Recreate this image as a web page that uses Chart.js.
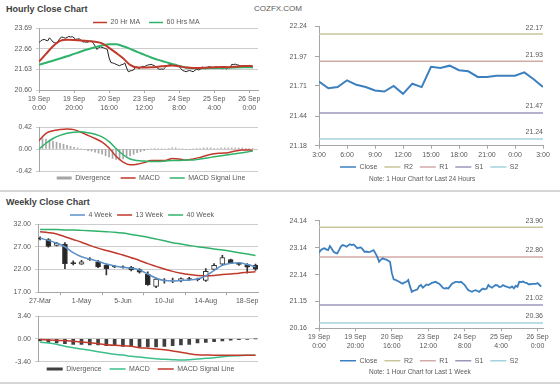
<!DOCTYPE html>
<html>
<head>
<meta charset="utf-8">
<script src="https://cdn.jsdelivr.net/npm/chart.js@4.4.1/dist/chart.umd.min.js"></script>
<style>
body { margin: 0; background: #fff; }
#page { position: relative; width: 560px; height: 385px; overflow: hidden; font-family: 'Liberation Sans', Arial, sans-serif; }
#page canvas { position: absolute; }
.head { position: absolute; left: 6px; font-weight: bold; font-size: 9px; line-height: 12px; color: #404040; }
.rule { position: absolute; left: 0; width: 560px; height: 2px; background: #d6d6d6; }
</style>
</head>
<body>
<div id="page">
  <div class="head" style="top:3px">Hourly Close Chart</div>
  <div style="position:absolute;left:254px;top:4px;font-size:8px;line-height:10px;color:#5a5a5a">COZFX.COM</div>
  <canvas id="hourly" width="268" height="104" style="left:0;top:14px"></canvas>
  <canvas id="hourlyMacd" width="268" height="70" style="left:0;top:118px"></canvas>
  <canvas id="day" width="290" height="174" style="left:270px;top:14px"></canvas>
  <div class="rule" style="top:190px"></div>
  <div class="head" style="top:196px">Weekly Close Chart</div>
  <canvas id="weekly" width="268" height="102" style="left:0;top:206px"></canvas>
  <canvas id="weeklyMacd" width="268" height="72" style="left:0;top:308px"></canvas>
  <canvas id="week" width="290" height="174" style="left:270px;top:206px"></canvas>
  <div class="rule" style="top:382px"></div>
</div>
<script>
// hourly data, x = hours from 19 Sep 0:00 (weekend skipped)
const hourTickPos = [0, 20, 40, 60, 80, 100, 120];
const hourTickDays = ['19 Sep', '19 Sep', '20 Sep', '23 Sep', '24 Sep', '25 Sep', '26 Sep'];
const hourTickTimes = ['0:00', '20:00', '16:00', '12:00', '8:00', '4:00', '0:00'];
const hourClose = [22.96,23.05,23.10,23.12,23.08,23.05,23.20,23.10,22.99,22.95,
  22.93,23.05,23.18,23.24,23.22,23.18,23.22,23.27,23.24,23.26,
  23.20,23.12,23.14,23.15,23.08,22.99,23.00,22.98,22.99,23.02,
  23.05,22.93,22.80,22.62,22.70,22.75,22.72,22.70,22.66,22.62,
  22.20,21.97,21.95,21.92,21.88,21.84,21.81,21.86,21.88,21.95,
  21.70,21.51,21.55,21.57,21.60,21.72,21.76,21.66,21.72,21.78,
  21.76,21.80,21.84,21.86,21.88,21.84,21.81,21.74,21.66,21.63,
  21.65,21.63,21.72,21.81,21.84,21.88,21.88,21.86,21.88,21.82,
  21.76,21.66,21.57,21.54,21.51,21.55,21.57,21.54,21.51,21.58,
  21.63,21.60,21.62,21.76,21.70,21.66,21.72,21.76,21.75,21.69,
  21.70,21.76,21.72,21.70,21.67,21.66,21.71,21.64,21.73,21.70,
  21.88,21.87,21.89,21.85,21.84,21.79,21.79,21.80,21.80,21.80,
  21.83,21.77,21.70];
const maHours = [0,4,8,12,16,20,24,28,32,36,40,44,48,52,56,60,64,68,72,76,80,84,88,92,96,100,104,108,112,116,120,122];
const ma20 = [22.01,22.40,22.78,23.05,23.10,23.09,23.07,23.04,23.00,22.92,22.70,22.45,22.18,21.85,21.72,21.72,
  21.73,21.76,21.80,21.82,21.78,21.72,21.70,21.70,21.72,21.74,21.75,21.74,21.76,21.79,21.80,21.79];
const ma60 = [21.86,21.96,22.06,22.17,22.28,22.40,22.52,22.63,22.73,22.82,22.88,22.88,22.78,22.65,22.50,22.36,
  22.22,22.10,22.00,21.90,21.80,21.72,21.68,21.68,21.69,21.70,21.70,21.71,21.72,21.73,21.74,21.74];
const macdHourly = [0.16,0.30,0.35,0.37,0.38,0.37,0.32,0.26,0.20,0.13,0.02,-0.14,-0.25,-0.30,-0.29,-0.26,
  -0.22,-0.22,-0.22,-0.18,-0.19,-0.21,-0.19,-0.16,-0.12,-0.09,-0.08,-0.07,-0.04,-0.02,-0.02,-0.03];
const signalHourly = [0.00,0.11,0.20,0.26,0.30,0.32,0.33,0.31,0.28,0.23,0.14,0.01,-0.11,-0.19,-0.22,-0.23,
  -0.24,-0.24,-0.23,-0.22,-0.22,-0.21,-0.21,-0.19,-0.17,-0.15,-0.13,-0.11,-0.09,-0.07,-0.05,-0.04];
// one bar every 2 hours
const divHourly = [0.16,0.20,0.19,0.17,0.15,0.13,0.11,0.09,0.07,0.05,
  0.03,0.02,0.00,-0.01,-0.03,-0.04,-0.06,-0.08,-0.10,-0.13,
  -0.15,-0.18,-0.20,-0.21,-0.19,-0.16,-0.13,-0.10,-0.07,-0.05,
  -0.03,-0.01,0.00,0.01,0.01,0.00,0.00,0.01,0.02,0.02,
  0.01,0.00,-0.01,-0.01,0.00,0.01,0.01,0.02,0.02,0.02,
  0.01,0.01,0.02,0.02,0.02,0.02,0.02,0.02,0.02,0.01,
  0.01,0.01];
const hourAxis = [20.60, 21.63, 22.66, 23.69];
const macdHourAxis = [-0.42, 0, 0.42];

// last 24 hours
const dayTickPos = [0, 3, 6, 9, 12, 15, 18, 21, 24];
const dayTickLabels = ['3:00', '6:00', '9:00', '12:00', '15:00', '18:00', '21:00', '0:00', '3:00'];
const dayClose = [21.75,21.69,21.70,21.76,21.72,21.70,21.67,21.66,21.71,21.64,21.73,21.70,21.88,
  21.87,21.89,21.85,21.84,21.79,21.79,21.80,21.80,21.80,21.83,21.77,21.70];
const dayAxis = [21.18, 21.44, 21.71, 21.97, 22.24];
const dayLevels = [22.17, 21.93, 21.47, 21.24];
const levelNames = ['R2', 'R1', 'S1', 'S2'];

// weekly data, 27-Mar .. 25-Sep
const weekTickPos = [0, 5, 10, 15, 20, 25];
const weekTickLabels = ['27-Mar', '1-May', '5-Jun', '10-Jul', '14-Aug', '18-Sep'];
const weekOpen  = [28.9,28.6,27.3,27.6,23.5,23.2,24.3,23.7,23.0,22.7,22.6,22.5,22.0,21.0,18.3,19.7,19.6,19.5,20.0,19.9,19.6,22.0,23.2,24.2,23.4,23.1,23.0];
const weekClose = [28.7,27.1,27.8,23.3,23.3,23.7,24.2,22.6,22.2,22.6,22.5,21.9,21.4,18.7,19.9,19.6,19.7,20.0,19.9,19.8,21.6,22.9,24.6,23.4,23.1,22.5,22.1];
const weekHigh  = [29.2,28.8,28.0,27.9,23.9,24.0,24.6,24.0,23.2,22.9,22.8,22.7,22.2,21.5,20.2,20.0,20.1,20.2,20.3,20.1,22.2,23.3,25.1,24.3,23.5,23.3,23.2];
const weekLow   = [28.5,26.9,27.2,22.2,23.0,23.1,24.0,22.4,20.8,22.4,22.3,21.7,21.2,18.5,18.0,19.0,19.1,19.3,19.6,19.5,19.4,21.8,23.0,23.3,22.9,21.2,21.8];
const ma4w  = [28.9,28.4,27.8,27.0,25.7,24.8,24.3,23.8,23.2,22.8,22.5,22.3,21.9,21.0,20.1,19.6,19.5,19.6,19.7,19.9,20.6,21.8,22.9,23.4,23.5,23.1,22.6];
const ma13w = [30.3,30.1,29.8,29.2,28.6,28.0,27.3,26.7,26.2,25.7,25.2,24.6,24.0,23.3,22.7,22.1,21.6,21.2,20.9,20.7,20.6,20.7,20.9,21.0,21.2,21.4,21.5];
const ma40w = [30.8,30.8,30.8,30.7,30.7,30.6,30.5,30.4,30.3,30.2,30.0,29.7,29.4,29.1,28.7,28.3,27.9,27.6,27.3,27.0,26.8,26.5,26.3,26.0,25.7,25.4,25.1];
const divWeekly    = [-0.3,-0.5,-0.6,-0.7,-0.8,-0.8,-0.9,-0.9,-1.0,-1.0,-1.1,-1.1,-1.2,-1.2,-1.2,-1.1,-1.0,-0.9,-0.8,-0.6,-0.5,-0.4,-0.3,-0.2,-0.1,-0.05,0.0];
const macdWeekly   = [-0.5,-0.6,-0.8,-1.1,-1.3,-1.5,-1.7,-1.9,-2.1,-2.3,-2.4,-2.6,-2.7,-2.85,-2.95,-3.05,-3.1,-3.15,-3.1,-3.0,-2.9,-2.8,-2.65,-2.55,-2.5,-2.45,-2.45];
const signalWeekly = [-0.1,-0.15,-0.2,-0.25,-0.35,-0.45,-0.55,-0.7,-0.85,-0.95,-1.0,-1.1,-1.3,-1.4,-1.5,-1.6,-1.8,-2.0,-2.2,-2.35,-2.4,-2.43,-2.43,-2.45,-2.45,-2.45,-2.45];
const weekAxis = [17, 22, 27, 32];
const macdWeekAxis = [-3.40, 0, 3.40];

// last week, hourly
const weekHourAxis = [20.16, 21.15, 22.14, 23.14, 24.14];
const weekLevels = [23.90, 22.80, 21.02, 20.36];

const gridGray = '#cdcdcd';
const axisGray = '#a6a6a6';
const red = '#c0392b';
const green = '#2fb36a';
const closeBlue = '#3c7fbf';
const levelColors = ['#c8c59a', '#d2aaa8', '#9a97ba', '#a3d2e0'];

Chart.defaults.font.family = "'Liberation Sans', Arial, sans-serif";
Chart.defaults.font.size = 7;
Chart.defaults.color = '#595959';
Chart.defaults.animation = false;
Chart.defaults.responsive = false;
Chart.defaults.plugins.tooltip.enabled = false;
Chart.defaults.elements.point.radius = 0;

function pts(xs, ys) {
  return ys.map((v, i) => ({ x: xs[i], y: v }));
}

function series(ys) {
  return ys.map((v, i) => ({ x: i, y: v }));
}

function xLinear(min, max, pos, label, height) {
  return {
    type: 'linear', min: min, max: max, offset: false,
    afterBuildTicks: s => { s.ticks = pos.map(v => ({ value: v })); },
    ticks: { autoSkip: false, maxRotation: 0, padding: 2, callback: label },
    grid: { drawOnChartArea: false, tickLength: 3, color: axisGray },
    border: { color: axisGray },
    afterFit: s => { s.height = height; }
  };
}

function yFixed(vals, width, lines, pad, tick) {
  return {
    min: vals[0], max: vals[vals.length - 1],
    afterBuildTicks: s => { s.ticks = vals.map(v => ({ value: v })); },
    ticks: { padding: pad, callback: v => v.toFixed(2) },
    grid: { drawOnChartArea: lines, tickLength: tick, color: lines ? gridGray : axisGray },
    border: { color: axisGray },
    afterFit: s => { s.width = width; }
  };
}

function legendOpts(position, padding, sample) {
  return {
    position: position, fullSize: false, align: 'start',
    labels: {
      usePointStyle: true, pointStyle: 'line', pointStyleWidth: sample, padding: padding,
      generateLabels: chart => chart.data.datasets.map((ds, i) => ({
        text: ds.label || '', datasetIndex: i, pointStyle: 'line', hidden: false,
        strokeStyle: ds.borderColor, fillStyle: ds.borderColor,
        lineWidth: ds.keyWidth || 1.5, fontColor: '#595959'
      })),
      filter: item => item.text !== ''
    }
  };
}

function noteTitle(text) {
  return { display: true, text: text, position: 'bottom', align: 'start', color: '#595959',
    font: { size: 6.5, weight: 'normal' }, padding: { top: 2, bottom: 0 } };
}

function levelSets(levels, x0, x1) {
  return levels.map((v, k) => ({
    label: levelNames[k], level: v, borderColor: levelColors[k], borderWidth: 1.5,
    data: [{ x: x0, y: v }, { x: x1, y: v }]
  }));
}

// fixes legend height and moves legend / note to where the original has them
const nudge = {
  id: 'nudge',
  beforeLayout(chart, args, o) {
    const lg = chart.legend;
    if (lg && o.legendHeight && !lg._fixedFit) {
      const h = o.legendHeight;
      const fit = lg.fit;
      lg.fit = function () { fit.call(this); this.height = h; };
      lg._fixedFit = true;
    }
  },
  afterLayout(chart, args, o) {
    const lg = chart.legend;
    if (lg) {
      lg.left += o.lx || 0;
      lg.top += o.ly || 0;
      lg.right = lg.left + 300;
      lg.bottom = lg.top + 30;
    }
    const tb = chart.titleBlock;
    if (tb && tb.options.display) {
      tb.left += o.tx || 0; tb.right += o.tx || 0;
      tb.top += o.ty || 0; tb.bottom += o.ty || 0;
    }
  }
};

// value written above the right end of each support / resistance line
const levelText = {
  id: 'levelText',
  afterDatasetsDraw(chart) {
    const ctx = chart.ctx, area = chart.chartArea, y = chart.scales.y;
    ctx.save();
    ctx.font = "7px 'Liberation Sans', Arial, sans-serif";
    ctx.fillStyle = '#595959';
    ctx.textAlign = 'right';
    ctx.textBaseline = 'middle';
    chart.data.datasets.forEach(ds => {
      if (ds.level != null) ctx.fillText(ds.level.toFixed(2), area.right, y.getPixelForValue(ds.level) - 6.5);
    });
    ctx.restore();
  }
};

new Chart(document.getElementById('hourly'), {
  type: 'line',
  data: {
    datasets: [
      { label: '20 Hr MA', data: pts(maHours, ma20), borderColor: red, borderWidth: 2, cubicInterpolationMode: 'monotone' },
      { label: '60 Hrs MA', data: pts(maHours, ma60), borderColor: green, borderWidth: 2, cubicInterpolationMode: 'monotone' },
      { data: series(hourClose), borderColor: '#1e1e1e', borderWidth: 1 }
    ]
  },
  options: {
    layout: { padding: { right: 10 } },
    scales: {
      x: xLinear(0, 125, hourTickPos, (v, i) => [hourTickDays[i], hourTickTimes[i]], 28),
      y: yFixed(hourAxis, 39, true, 4, 3)
    },
    plugins: { legend: legendOpts('top', 9, 14), nudge: { legendHeight: 14, lx: 45, ly: -4 } }
  },
  plugins: [nudge]
});

new Chart(document.getElementById('hourlyMacd'), {
  type: 'bar',
  data: {
    datasets: [
      { label: 'Divergence', data: divHourly.map((v, i) => ({ x: i * 2, y: v })), backgroundColor: '#a6a6a6',
        borderColor: '#a6a6a6', barThickness: 1, keyWidth: 3, order: 2 },
      { type: 'line', label: 'MACD', data: pts(maHours, macdHourly), borderColor: red, borderWidth: 1.5,
        cubicInterpolationMode: 'monotone', order: 1 },
      { type: 'line', label: 'MACD Signal Line', data: pts(maHours, signalHourly), borderColor: green, borderWidth: 1.5,
        cubicInterpolationMode: 'monotone', order: 0 }
    ]
  },
  options: {
    layout: { padding: { top: 9, right: 10 } },
    scales: {
      x: { type: 'linear', display: false, min: 0, max: 125, offset: false },
      y: yFixed(macdHourAxis, 39, true, 4, 3)
    },
    plugins: { legend: legendOpts('bottom', 10, 15), nudge: { legendHeight: 17, lx: 7.7, ly: -6.5 } }
  },
  plugins: [nudge]
});

new Chart(document.getElementById('day'), {
  type: 'line',
  data: {
    datasets: [{ label: 'Close', data: series(dayClose), borderColor: closeBlue, borderWidth: 2 }]
      .concat(levelSets(dayLevels, 0, 24))
  },
  options: {
    layout: { padding: { top: 12, right: 17, bottom: 5.5 } },
    scales: {
      x: xLinear(0, 24, dayTickPos, (v, i) => dayTickLabels[i], 14),
      y: yFixed(dayAxis, 49, false, 8, 4)
    },
    plugins: {
      legend: legendOpts('bottom', 7, 16),
      title: noteTitle('Note: 1 Hour Chart for Last 24 Hours'),
      nudge: { legendHeight: 13, lx: 14, ly: -3.2, tx: 99, ty: 0.4 }
    }
  },
  plugins: [nudge, levelText]
});

new Chart(document.getElementById('weekly'), {
  type: 'bar',
  data: {
    datasets: [
      { type: 'line', label: '4 Week', data: series(ma4w), borderColor: '#5b90c8', borderWidth: 1.5, cubicInterpolationMode: 'monotone' },
      { type: 'line', label: '13 Week', data: series(ma13w), borderColor: red, borderWidth: 1.5, cubicInterpolationMode: 'monotone' },
      { type: 'line', label: '40 Week', data: series(ma40w), borderColor: green, borderWidth: 1.5, cubicInterpolationMode: 'monotone' },
      { data: weekOpen.map((o, i) => ({ x: i, y: [o, weekClose[i]] })),
        backgroundColor: c => weekClose[c.dataIndex] < weekOpen[c.dataIndex] ? '#262626' : '#ffffff',
        borderColor: '#333333', borderWidth: 1, borderSkipped: false, barThickness: 5, grouped: false },
      { data: weekLow.map((l, i) => ({ x: i, y: [l, weekHigh[i]] })), backgroundColor: '#333333',
        barThickness: 1, grouped: false }
    ]
  },
  options: {
    layout: { padding: { right: 10 } },
    scales: {
      x: xLinear(-0.25, 26.3, weekTickPos, (v, i) => weekTickLabels[i], 15.7),
      y: yFixed(weekAxis, 38, true, 4, 3)
    },
    plugins: { legend: legendOpts('top', 5, 15), nudge: { legendHeight: 18, lx: 27, ly: 0.5 } }
  },
  plugins: [nudge]
});

new Chart(document.getElementById('weeklyMacd'), {
  type: 'bar',
  data: {
    datasets: [
      { label: 'Divergence', data: series(divWeekly), backgroundColor: '#404040', borderColor: '#404040',
        barThickness: 3, keyWidth: 3, order: 2 },
      { type: 'line', label: 'MACD', data: series(macdWeekly), borderColor: '#3cbf8c', borderWidth: 1.5,
        cubicInterpolationMode: 'monotone', order: 1 },
      { type: 'line', label: 'MACD Signal Line', data: series(signalWeekly), borderColor: red, borderWidth: 1.5,
        cubicInterpolationMode: 'monotone', order: 0 }
    ]
  },
  options: {
    layout: { padding: { top: 7, right: 10 } },
    scales: {
      x: { type: 'linear', display: false, min: -0.25, max: 26.3, offset: false },
      y: yFixed(macdWeekAxis, 38, true, 4, 3)
    },
    plugins: { legend: legendOpts('bottom', 8, 16), nudge: { legendHeight: 18.3, lx: 0.7, ly: -4.2 } }
  },
  plugins: [nudge]
});

new Chart(document.getElementById('week'), {
  type: 'line',
  data: {
    datasets: [{ label: 'Close', data: series(hourClose), borderColor: closeBlue, borderWidth: 1.8 }]
      .concat(levelSets(weekLevels, 0, 123))
  },
  options: {
    layout: { padding: { top: 14.7, right: 17, bottom: 7.1 } },
    scales: {
      x: xLinear(0, 123, hourTickPos, (v, i) => [hourTickDays[i], hourTickTimes[i]], 22.8),
      y: yFixed(weekHourAxis, 49, false, 8, 4)
    },
    plugins: {
      legend: legendOpts('bottom', 7, 16),
      title: noteTitle('Note: 1 Hour Chart for Last 1 Week'),
      nudge: { legendHeight: 12, lx: 14, ly: -0.9, tx: 99, ty: 3.7 }
    }
  },
  plugins: [nudge, levelText]
});
</script>
</body>
</html>
